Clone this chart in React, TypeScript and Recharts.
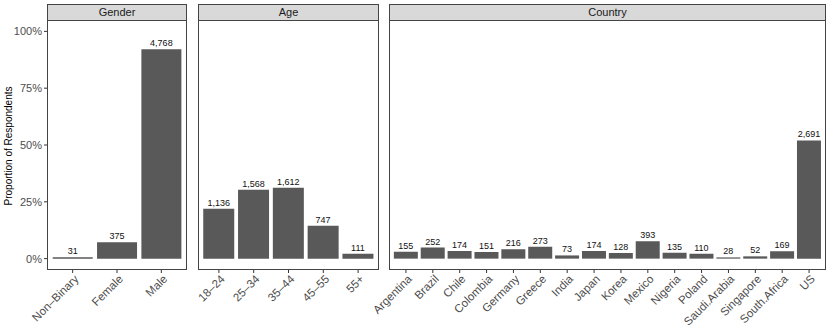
import { BarChart, Bar, XAxis, YAxis, LabelList } from 'recharts'

const genderCats = ['Non–Binary', 'Female', 'Male']
const genderCounts = [31, 375, 4768]

const ageCats = ['18–24', '25–34', '35–44', '45–55', '55+']
const ageCounts = [1136, 1568, 1612, 747, 111]

const countryCats = [
  'Argentina', 'Brazil', 'Chile', 'Colombia', 'Germany', 'Greece', 'India', 'Japan',
  'Korea', 'Mexico', 'Nigeria', 'Poland', 'Saudi.Arabia', 'Singapore', 'South.Africa', 'US',
]
const countryCounts = [155, 252, 174, 151, 216, 273, 73, 174, 128, 393, 135, 110, 28, 52, 169, 2691]

const yTicks = [0, 0.25, 0.5, 0.75, 1]
const yDomain = [-0.05, 1.05]

const FONT = '"Liberation Sans", Arial, Helvetica, sans-serif'
const W = 830
const H = 332
const TOP = 20
const BOTTOM = 270

function toRows(cats: string[], counts: number[]) {
  const total = counts.reduce((a, b) => a + b, 0)
  return cats.map((name, i) => ({ name, count: counts[i], prop: counts[i] / total }))
}

// ggplot-style 45° labels: right end of the text sits just under the tick
const AngledTick = ({ x, y, payload }: any) => {
  const ty = y + 1
  return (
    <text
      x={x + 1}
      y={ty}
      transform={`rotate(-45, ${x + 1}, ${ty})`}
      textAnchor="end"
      dominantBaseline="hanging"
      fontSize={11.5}
      fontFamily={FONT}
      fill="#4d4d4d"
      stroke="none"
    >
      {payload.value}
    </text>
  )
}

const fmtCount = (v: any) => Number(v).toLocaleString('en-US')

interface PanelProps {
  title: string
  rows: { name: string; count: number; prop: number }[]
  left: number
  right: number
  showY?: boolean
}

function Panel({ title, rows, left, right, showY }: PanelProps) {
  const yW = 47
  return (
    <>
      <div style={{ position: 'absolute', left: 0, top: 0 }}>
        <BarChart
          width={W}
          height={H}
          data={rows}
          margin={{ top: TOP, right: W - right, bottom: 0, left: showY ? left - yW : left }}
          barCategoryGap="5%"
        >
          <XAxis
            dataKey="name"
            type="category"
            height={H - BOTTOM}
            padding={{ left: 3.5, right: 3.5 }}
            axisLine={false}
            tickSize={3}
            tickMargin={0}
            tickLine={{ stroke: '#333' }}
            tick={<AngledTick />}
            interval={0}
          />
          {showY ? (
            <YAxis
              width={yW}
              domain={yDomain}
              ticks={yTicks}
              tickFormatter={(v: number) => `${Math.round(v * 100)}%`}
              axisLine={false}
              tickSize={3}
              tickMargin={2}
              tickLine={{ stroke: '#333' }}
              tick={{ fontSize: 11, fontFamily: FONT, fill: '#4d4d4d', stroke: 'none' }}
              allowDataOverflow
            />
          ) : (
            <YAxis hide domain={yDomain} allowDataOverflow />
          )}
          <Bar dataKey="prop" fill="#595959" isAnimationActive={false}>
            <LabelList
              dataKey="count"
              position="top"
              offset={3}
              formatter={fmtCount}
              style={{ fontSize: 9, fontFamily: FONT, fill: '#111' }}
            />
          </Bar>
        </BarChart>
      </div>
      {/* panel border */}
      <div
        style={{
          position: 'absolute',
          left,
          top: TOP,
          width: right - left,
          height: BOTTOM - TOP,
          boxSizing: 'border-box',
          border: '1px solid #444',
          pointerEvents: 'none',
        }}
      />
      {/* strip */}
      <div
        style={{
          position: 'absolute',
          left,
          top: 4,
          width: right - left,
          height: 17,
          boxSizing: 'border-box',
          border: '1px solid #444',
          background: '#d9d9d9',
          color: '#1a1a1a',
          fontFamily: FONT,
          fontSize: 11,
          lineHeight: '15px',
          textAlign: 'center',
        }}
      >
        {title}
      </div>
    </>
  )
}

export default function App() {
  return (
    <div style={{ position: 'absolute', left: 0, top: 0, width: W, height: H, background: '#fff', overflow: 'hidden' }}>
      <Panel title="Gender" rows={toRows(genderCats, genderCounts)} left={47} right={187} showY />
      <Panel title="Age" rows={toRows(ageCats, ageCounts)} left={198} right={379} />
      <Panel title="Country" rows={toRows(countryCats, countryCounts)} left={389} right={826} />
      <div
        style={{
          position: 'absolute',
          left: 8,
          top: 146,
          transform: 'translate(-50%, -50%) rotate(-90deg)',
          whiteSpace: 'nowrap',
          fontFamily: FONT,
          fontSize: 10,
          color: '#000',
        }}
      >
        Proportion of Respondents
      </div>
    </div>
  )
}
